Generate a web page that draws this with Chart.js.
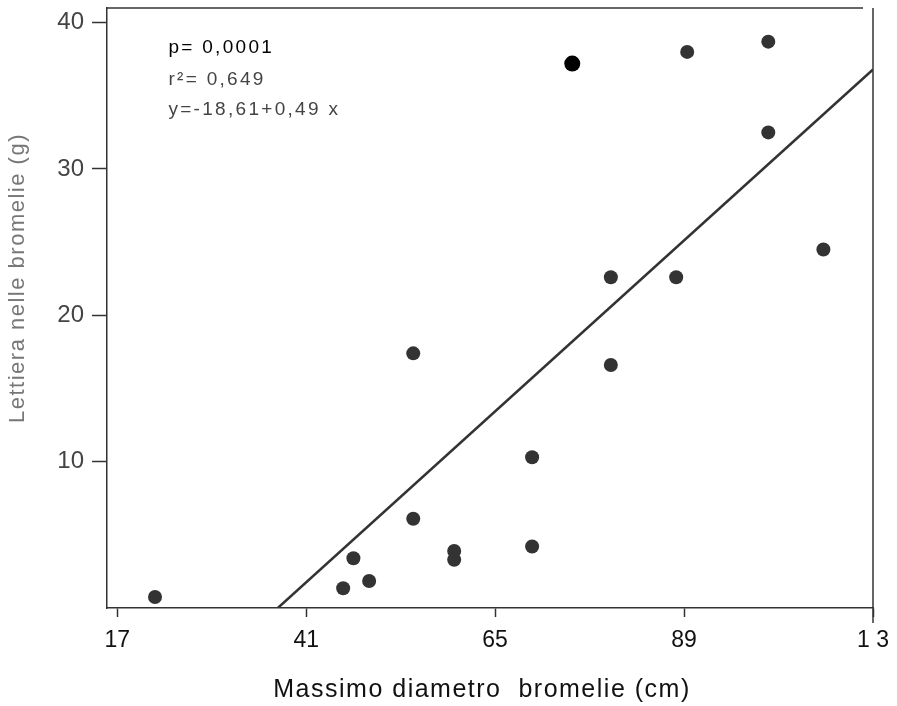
<!DOCTYPE html>
<html>
<head>
<meta charset="utf-8">
<script src="https://cdn.jsdelivr.net/npm/chart.js@4/dist/chart.umd.min.js"></script>
<style>
  html, body { margin: 0; padding: 0; background: #ffffff; }
  #wrap { width: 897px; height: 706px; position: relative; }
</style>
</head>
<body>
<div id="wrap"><canvas id="c" width="897" height="706"></canvas></div>
<script>
// ---- data ----
const diametro = [21.8, 45.7, 47.0, 49.0, 54.6, 54.6, 59.8, 59.8, 69.7, 69.7, 79.7, 79.7, 88.0, 89.4, 99.7, 99.7, 106.7];
const lettiera = [0.75, 1.35, 3.4, 1.85, 17.4, 6.1, 3.9, 3.3, 10.3, 4.2, 22.6, 16.6, 22.6, 38.0, 38.7, 32.5, 24.5];
const evidenziatoX = [74.8];
const evidenziatoY = [37.2];
const rettaX = [37.4, 113];
const rettaY = [0.0, 36.8];
const xTicks = [17, 41, 65, 89, 113];
const xTickLabels = ['17', '41', '65', '89', '1 3'];
const yTicks = [10, 20, 30, 40];
const yTickLabels = ['10', '20', '30', '40'];
const statLines = ['p= 0,0001', 'r²= 0,649', 'y=-18,61+0,49 x'];
const xTitle = 'Massimo diametro  bromelie (cm)';
const yTitle = 'Lettiera nelle bromelie (g)';

const toPts = (xs, ys) => xs.map((x, i) => ({ x: x, y: ys[i] }));

const FONT = "'Liberation Sans', Arial, Helvetica, sans-serif";

const framePlugin = {
  id: 'frame',
  afterDraw(chart) {
    const ctx = chart.ctx;
    const a = chart.chartArea;
    ctx.save();
    ctx.strokeStyle = '#333';
    ctx.lineWidth = 1.5;
    // top border
    ctx.beginPath();
    ctx.moveTo(a.left, a.top);
    ctx.lineTo(a.right - 10, a.top);
    ctx.stroke();
    // right border (extends below as tick)
    ctx.beginPath();
    ctx.moveTo(a.right, a.top);
    ctx.lineTo(a.right, a.bottom + 15);
    ctx.stroke();
    // statistics text
    const xs = chart.scales.x, ys = chart.scales.y;
    const tx = xs.getPixelForValue(23.5);
    ctx.textAlign = 'left';
    ctx.textBaseline = 'alphabetic';
    const colors = ['#000', '#444', '#444'];
    const yvals = [37.95, 35.75, 33.7];
    ctx.letterSpacing = '2.3px';
    statLines.forEach((s, i) => {
      ctx.fillStyle = colors[i];
      ctx.font = '19px ' + FONT;
      ctx.fillText(s, tx, ys.getPixelForValue(yvals[i]));
    });
    // y axis title
    ctx.save();
    ctx.letterSpacing = '1.5px';
    ctx.translate(18, (a.top + a.bottom) / 2 - 30);
    ctx.rotate(-Math.PI / 2);
    ctx.textAlign = 'center';
    ctx.textBaseline = 'middle';
    ctx.fillStyle = '#777';
    ctx.font = '22px ' + FONT;
    ctx.fillText(yTitle, 0, 0);
    ctx.restore();
    // x axis title
    ctx.save();
    ctx.letterSpacing = '1.5px';
    ctx.textAlign = 'center';
    ctx.textBaseline = 'middle';
    ctx.fillStyle = '#111';
    ctx.font = '25px ' + FONT;
    ctx.fillText(xTitle, (a.left + a.right) / 2 - 8, a.bottom + 82);
    ctx.restore();
    ctx.restore();
  }
};

new Chart(document.getElementById('c'), {
  type: 'scatter',
  data: {
    datasets: [
      {
        label: 'retta',
        data: toPts(rettaX, rettaY),
        showLine: true,
        borderColor: '#333',
        borderWidth: 2.5,
        pointRadius: 0,
        fill: false,
        order: 2
      },
      {
        label: 'punti',
        data: toPts(diametro, lettiera),
        backgroundColor: '#333',
        borderColor: '#333',
        borderWidth: 0,
        pointRadius: 7,
        order: 1
      },
      {
        label: 'evidenziato',
        data: toPts(evidenziatoX, evidenziatoY),
        backgroundColor: '#000',
        borderColor: '#000',
        borderWidth: 0,
        pointRadius: 8,
        order: 0
      }
    ]
  },
  options: {
    responsive: false,
    animation: false,
    devicePixelRatio: 1,
    layout: { padding: { left: 0, right: 24, top: 8, bottom: 0 } },
    plugins: {
      legend: { display: false },
      tooltip: { enabled: false }
    },
    scales: {
      x: {
        type: 'linear',
        min: 15.7,
        max: 113,
        afterBuildTicks: (s) => { s.ticks = xTicks.map(v => ({ value: v })); },
        afterFit: (s) => { s.height = 98; s.paddingLeft = 0; s.paddingRight = 0; },
        ticks: {
          autoSkip: false,
          maxRotation: 0,
          padding: 10,
          color: '#111',
          font: { family: FONT, size: 23 },
          callback: (v) => { const i = xTicks.indexOf(v); return i >= 0 ? xTickLabels[i] : ''; }
        },
        grid: { drawOnChartArea: false, tickLength: 9, tickColor: '#333', tickWidth: 1.5 },
        border: { color: '#333', width: 1.5 },
        title: { display: false }
      },
      y: {
        type: 'linear',
        min: 0,
        max: 41,
        afterBuildTicks: (s) => { s.ticks = yTicks.map(v => ({ value: v })); },
        afterFit: (s) => { s.width = 107; s.paddingTop = 0; s.paddingBottom = 0; },
        ticks: {
          autoSkip: false,
          padding: 8,
          color: '#444',
          font: { family: FONT, size: 24 },
          callback: (v) => { const i = yTicks.indexOf(v); return i >= 0 ? yTickLabels[i] : ''; }
        },
        grid: { drawOnChartArea: false, tickLength: 15, tickColor: '#333', tickWidth: 1.5 },
        border: { color: '#333', width: 1.5 }
      }
    }
  },
  plugins: [framePlugin]
});
</script>
</body>
</html>
